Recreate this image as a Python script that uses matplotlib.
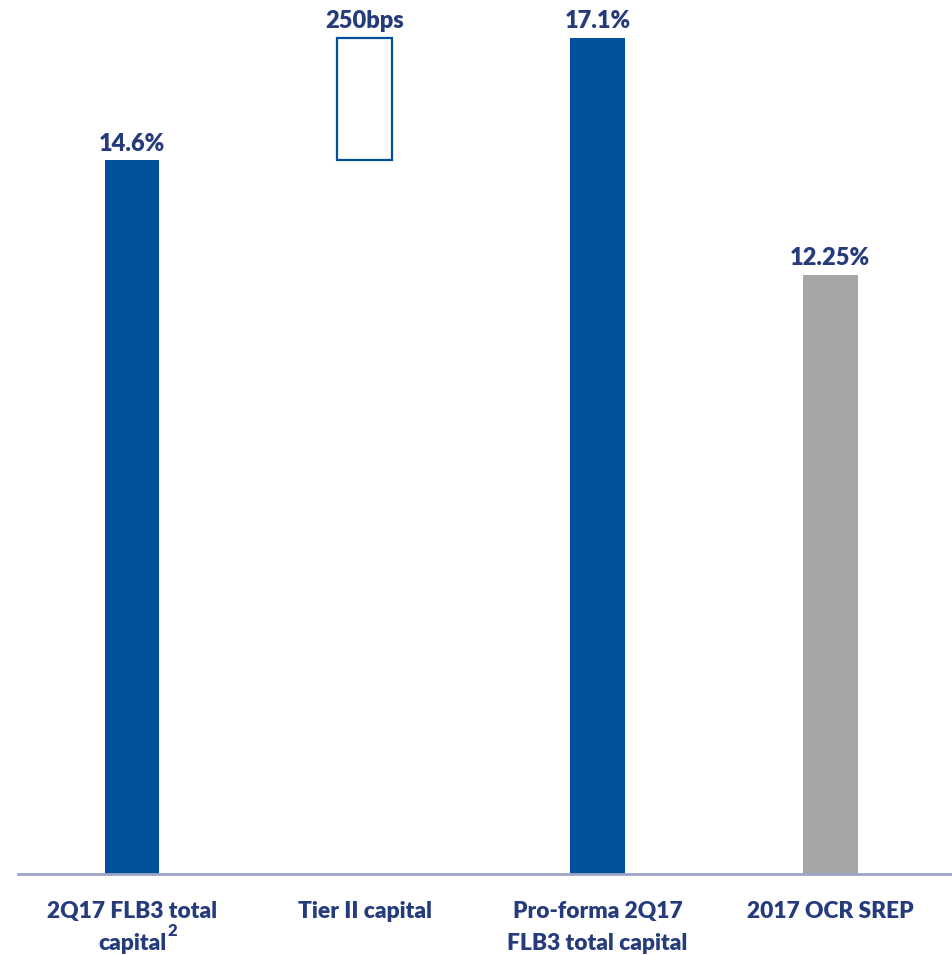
import matplotlib.pyplot as plt
from matplotlib.transforms import blended_transform_factory

# capital ratios (%) and the Tier II uplift
categories = [
    ["2Q17 FLB3 total", "capital"],
    ["Tier II capital"],
    ["Pro-forma 2Q17", "FLB3 total capital"],
    ["2017 OCR SREP"],
]
base_ratio = 14.6
tier2_bps = 250
proforma_ratio = 17.1
ocr_srep = 12.25

BLUE = "#00509E"
GREY = "#A6A6A6"
NAVY = "#253B7C"
AXIS = "#9FA4C6"

plt.rcParams["font.family"] = ["Lato", "DejaVu Sans"]

fig = plt.figure(figsize=(9.52, 9.55), dpi=100)
ax = fig.add_axes([18 / 952, (955 - 874) / 955, 934 / 952, 874 / 955])

x = list(range(len(categories)))
width = 0.236

ax.bar(x[0], base_ratio, width, color=BLUE)
ax.bar(x[1], tier2_bps / 100, width, bottom=base_ratio,
       facecolor="white", edgecolor=BLUE, linewidth=1.6)
ax.bar(x[2], proforma_ratio, width, color=BLUE)
ax.bar(x[3], ocr_srep, width, color=GREY)

labels = [
    (x[0], base_ratio, f"{base_ratio:.1f}%"),
    (x[1], base_ratio + tier2_bps / 100, f"{tier2_bps}bps"),
    (x[2], proforma_ratio, f"{proforma_ratio:.1f}%"),
    (x[3], ocr_srep, f"{ocr_srep:.2f}%"),
]
for xi, top, txt in labels:
    ax.annotate(txt, (xi, top), xytext=(0, 7), textcoords="offset points",
                ha="center", va="baseline", fontsize=17, fontweight="heavy",
                color=NAVY)

ax.set_xlim(-0.49, 3.524)
ax.set_ylim(0, 17.88)

for side in ["top", "right", "left"]:
    ax.spines[side].set_visible(False)
ax.spines["bottom"].set_color(AXIS)
ax.spines["bottom"].set_linewidth(2)
ax.set_xticks([])
ax.set_yticks([])

# category names, one text per line
trans = blended_transform_factory(ax.transData, fig.transFigure)
line_y = [(955 - 918) / 955, (955 - 950) / 955]
capital_txt = None
for xi, lines in zip(x, categories):
    for j, line in enumerate(lines):
        t = ax.text(xi, line_y[j], line, transform=trans, ha="center",
                    va="baseline", fontsize=16.4, fontweight="heavy",
                    color=NAVY)
        if line == "capital":
            capital_txt = t

ax.annotate("2", xy=(1, 0.7), xycoords=capital_txt, xytext=(1, 0),
            textcoords="offset points", ha="left", va="bottom",
            fontsize=12, fontweight="heavy", color=NAVY)

fig.savefig("out.png", dpi=100)
